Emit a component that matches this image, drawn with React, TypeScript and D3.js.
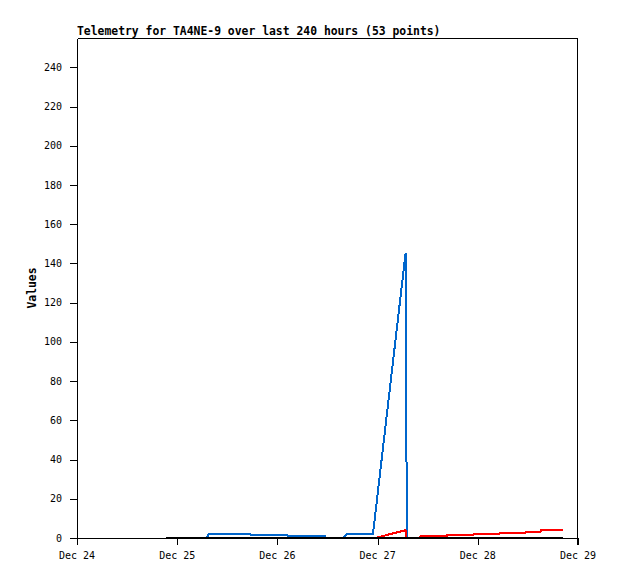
import React from "react";
import * as d3 from "d3";

const TITLE = "Telemetry for TA4NE-9 over last 240 hours (53 points)";
const Y_LABEL = "Values";
const START = new Date(2023, 11, 24, 0, 0, 0);
const END = new Date(2023, 11, 29, 0, 0, 0);
const Y_MAX = 255;
const Y_TICKS = [0, 20, 40, 60, 80, 100, 120, 140, 160, 180, 200, 220, 240];
const X_TICK_LABELS = ["Dec 24", "Dec 25", "Dec 26", "Dec 27", "Dec 28", "Dec 29"];

// hours since Dec 24 00:00, values
const blackHours = [21.3, 116.4];
const blackValues = [0, 0];

const blueHours = [21.3, 31.1, 31.6, 41.4, 41.6, 50.2, 50.4, 59.4, 59.6, 63.7, 64.7, 70.9, 78.7, 78.8, 79.0, 116.4];
const blueValues = [0, 0, 1.9, 1.9, 1.4, 1.4, 0.9, 0.9, 0, 0, 1.9, 1.9, 145, 104, 0, 0];

const redHours = [71.8, 78.7, 78.9, 81.9, 82.4, 88.6, 88.7, 94.9, 95.0, 101.1, 101.3, 107.4, 107.5, 111.0, 111.1, 116.5];
const redValues = [0, 3.7, 0, 0, 1.0, 1.0, 1.5, 1.5, 2.0, 2.0, 2.4, 2.4, 2.9, 2.9, 3.7, 3.7];

const W = 618;
const H = 579;
const L = 77;
const R = 578;
const T = 38;
const B = 538;

const x = d3.scaleTime().domain([START, END]).range([L, R]);
const y = d3.scaleLinear().domain([0, Y_MAX]).range([B, T]);

const toPts = (hours: number[], vals: number[]) =>
  hours.map((h, i) => [new Date(START.getTime() + h * 3600000), vals[i]] as [Date, number]);

const line = d3
  .line<[Date, number]>()
  .x((d) => x(d[0]))
  .y((d) => y(d[1]) - 0.5);

const series = [
  { pts: toPts(blueHours, blueValues), color: "#0066cc" },
  { pts: toPts(redHours, redValues), color: "#ff0000" },
  { pts: toPts(blackHours, blackValues), color: "#000000" },
];

const xTicks = d3.timeDay.range(START, new Date(END.getTime() + 1));

export default function App() {
  const mono = "'DejaVu Sans Mono', monospace";
  return (
    <svg
      width={W}
      height={H}
      style={{ position: "fixed", left: 0, top: 0, background: "#fff" }}
    >
      <rect x={0} y={0} width={W} height={H} fill="#fff" />
      <text x={L} y={35} fontFamily={mono} fontWeight="bold" fontSize={11.4} fill="#000">
        {TITLE}
      </text>
      <text
        transform={`translate(36, ${(T + B) / 2}) rotate(-90)`}
        textAnchor="middle"
        fontFamily={mono}
        fontWeight="bold"
        fontSize={11.4}
        fill="#000"
      >
        {Y_LABEL}
      </text>
      <g shapeRendering="crispEdges">
        {series.map((s, i) => (
          <path key={i} d={line(s.pts) || ""} fill="none" stroke={s.color} strokeWidth={2} />
        ))}
      </g>
      <g shapeRendering="crispEdges" stroke="#000" strokeWidth={1}>
        <line x1={L + 0.5} y1={T + 0.5} x2={R - 0.5} y2={T + 0.5} />
        <line x1={R - 0.5} y1={T + 0.5} x2={R - 0.5} y2={B + 7} />
        <line x1={L + 0.5} y1={T + 0.5} x2={L + 0.5} y2={B + 7} />
        <line x1={L} y1={B + 0.5} x2={R} y2={B + 0.5} />
        {Y_TICKS.map((t) => (
          <line key={t} x1={L - 7} x2={L} y1={Math.round(y(t)) + 0.5} y2={Math.round(y(t)) + 0.5} />
        ))}
        {xTicks.map((d, i) => (
          <line key={i} x1={Math.round(x(d)) + 0.5} x2={Math.round(x(d)) + 0.5} y1={B} y2={B + 7} />
        ))}
      </g>
      {Y_TICKS.map((t) => (
        <text
          key={t}
          x={L - 15}
          y={y(t)}
          dy="0.35em"
          textAnchor="end"
          fontFamily={mono}
          fontSize={10}
          fill="#000"
        >
          {t}
        </text>
      ))}
      {xTicks.map((d, i) => (
        <text
          key={i}
          x={x(d)}
          y={559}
          textAnchor="middle"
          fontFamily={mono}
          fontSize={10}
          fill="#000"
        >
          {X_TICK_LABELS[i]}
        </text>
      ))}
    </svg>
  );
}
